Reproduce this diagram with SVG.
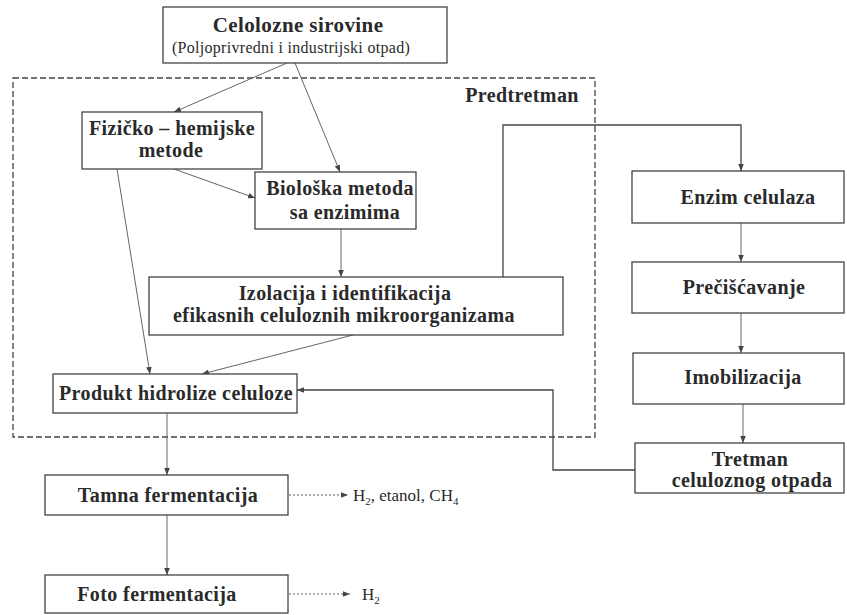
<svg xmlns="http://www.w3.org/2000/svg" width="847" height="615" viewBox="0 0 847 615">
<style>
  .box { fill: #ffffff; stroke: #444; stroke-width: 1.3; }
  .t { font-family: "Liberation Serif", "Times New Roman", serif; font-weight: bold; font-size: 20px; letter-spacing: 0.4px; fill: #2a2a2a; text-anchor: middle; }
  .s { font-family: "Liberation Serif", "Times New Roman", serif; font-size: 16px; letter-spacing: 0.3px; fill: #2a2a2a; text-anchor: middle; }
  .o { font-family: "Liberation Serif", "Times New Roman", serif; font-size: 17px; fill: #2a2a2a; }
  .c { fill: none; stroke: #666; stroke-width: 1; }
  .k { fill: none; stroke: #444; stroke-width: 1.3; }
  .d { fill: none; stroke: #666; stroke-width: 1; stroke-dasharray: 2,2; }
  .dash { fill: none; stroke: #444; stroke-width: 1.3; stroke-dasharray: 6,3; }
</style>
<defs>
  <marker id="ah" viewBox="0 0 10 10" refX="10" refY="5" markerWidth="7" markerHeight="7" markerUnits="userSpaceOnUse" orient="auto">
    <path d="M0,1 L10,5 L0,9 z" fill="#444"/>
  </marker>
</defs>
<rect width="847" height="615" fill="#ffffff"/>

<g id="predtretman">
  <rect class="dash" x="13" y="78" width="582" height="359"/>
  <text class="t" x="522" y="102">Predtretman</text>
</g>

<g id="connectors">
  <line class="c" x1="287" y1="63" x2="174" y2="112" marker-end="url(#ah)"/>
  <line class="c" x1="295" y1="63" x2="340" y2="172" marker-end="url(#ah)"/>
  <line class="c" x1="174" y1="169" x2="255" y2="198" marker-end="url(#ah)"/>
  <line class="c" x1="117" y1="169" x2="150" y2="374" marker-end="url(#ah)"/>
  <line class="c" x1="341" y1="229" x2="341" y2="277" marker-end="url(#ah)"/>
  <line class="c" x1="353" y1="335" x2="202" y2="374" marker-end="url(#ah)"/>
  <polyline class="k" points="503,277 503,125 741,125 741,171" marker-end="url(#ah)"/>
  <line class="c" x1="741" y1="223" x2="741" y2="262" marker-end="url(#ah)"/>
  <line class="c" x1="741" y1="313" x2="741" y2="353" marker-end="url(#ah)"/>
  <line class="c" x1="743" y1="404" x2="743" y2="443" marker-end="url(#ah)"/>
  <polyline class="k" points="635,470 553,470 553,390 297,390" marker-end="url(#ah)"/>
  <line class="c" x1="167" y1="413" x2="167" y2="475" marker-end="url(#ah)"/>
  <line class="c" x1="167" y1="515" x2="167" y2="575" marker-end="url(#ah)"/>
  <line class="d" x1="289" y1="495" x2="348" y2="495" marker-end="url(#ah)"/>
  <line class="d" x1="289" y1="594" x2="350" y2="594" marker-end="url(#ah)"/>
</g>

<g id="celolozne">
  <rect class="box" x="163" y="7" width="284" height="56"/>
  <text class="t" x="298" y="32" style="font-size:21px">Celolozne sirovine</text>
  <text class="s" x="291" y="53">(Poljoprivredni i industrijski otpad)</text>
</g>

<g id="fizicko">
  <rect class="box" x="82" y="112" width="180" height="57"/>
  <text class="t" x="172" y="135">Fizičko – hemijske</text>
  <text class="t" x="171" y="157">metode</text>
</g>

<g id="bioloska">
  <rect class="box" x="255" y="172" width="161" height="57"/>
  <text class="t" x="340" y="195">Biološka metoda</text>
  <text class="t" x="345" y="219">sa enzimima</text>
</g>

<g id="izolacija">
  <rect class="box" x="149" y="277" width="414" height="58"/>
  <text class="t" x="345" y="300">Izolacija i identifikacija</text>
  <text class="t" x="344" y="322">efikasnih celuloznih mikroorganizama</text>
</g>

<g id="produkt">
  <rect class="box" x="53" y="374" width="244" height="39"/>
  <text class="t" x="176" y="400">Produkt hidrolize celuloze</text>
</g>

<g id="tamna">
  <rect class="box" x="45" y="475" width="243" height="40"/>
  <text class="t" x="168" y="502">Tamna fermentacija</text>
</g>

<g id="foto">
  <rect class="box" x="45" y="575" width="243" height="38"/>
  <text class="t" x="157" y="601">Foto fermentacija</text>
</g>

<g id="out1">
  <text class="o" x="353" y="501">H<tspan font-size="11" dy="4">2</tspan><tspan dy="-4">, etanol, CH</tspan><tspan font-size="11" dy="4">4</tspan></text>
</g>

<g id="out2">
  <text class="o" x="362" y="600">H<tspan font-size="11" dy="4">2</tspan></text>
</g>

<g id="enzim">
  <rect class="box" x="632" y="171" width="212" height="52"/>
  <text class="t" x="748" y="204">Enzim celulaza</text>
</g>

<g id="precis">
  <rect class="box" x="632" y="262" width="212" height="51"/>
  <text class="t" x="744" y="294">Prečišćavanje</text>
</g>

<g id="imob">
  <rect class="box" x="633" y="353" width="211" height="51"/>
  <text class="t" x="743" y="384">Imobilizacija</text>
</g>

<g id="tretman">
  <rect class="box" x="635" y="443" width="209" height="50"/>
  <text class="t" x="750" y="466">Tretman</text>
  <text class="t" x="752" y="487">celuloznog otpada</text>
</g>
</svg>
